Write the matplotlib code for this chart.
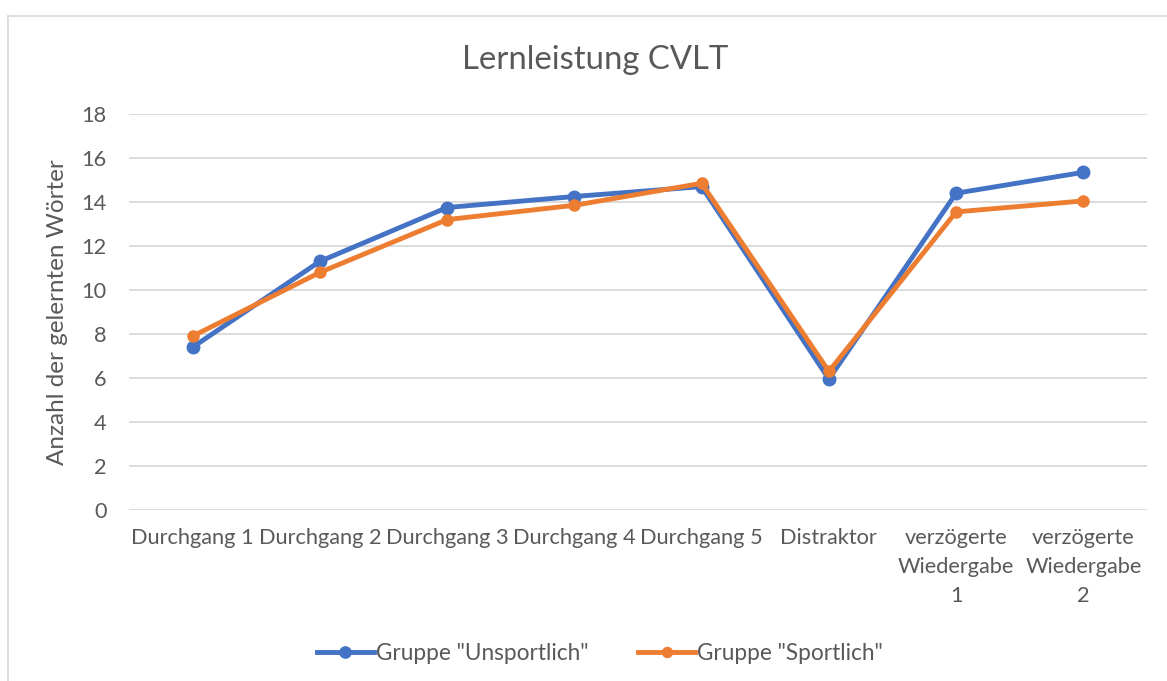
import matplotlib
matplotlib.use("Agg")
import matplotlib.pyplot as plt
from matplotlib.lines import Line2D

categories = ["Durchgang 1", "Durchgang 2", "Durchgang 3", "Durchgang 4", "Durchgang 5",
              "Distraktor", "verzögerte\nWiedergabe\n1", "verzögerte\nWiedergabe\n2"]
unsportlich = [7.4, 11.3, 13.75, 14.25, 14.7, 5.95, 14.4, 15.35]
sportlich = [7.9, 10.8, 13.2, 13.85, 14.85, 6.3, 13.55, 14.05]
series_names = ['Gruppe "Unsportlich"', 'Gruppe "Sportlich"']
yticks = [0, 2, 4, 6, 8, 10, 12, 14, 16, 18]

plt.rcParams['font.family'] = ['Lato', 'DejaVu Sans']
TXT = '#595959'
BLUE = '#4472C4'
ORANGE = '#ED7D31'
GRID = '#D9D9D9'

W, H = 1167, 681
fig = plt.figure(figsize=(W / 100, H / 100), dpi=100)
fig.patch.set_facecolor('white')

# chart area border (top and left visible)
fig.add_artist(Line2D([8 / W, 1.0], [1 - 16 / H, 1 - 16 / H], color='#D9D9D9', lw=1.2))
fig.add_artist(Line2D([8 / W, 8 / W], [1 - 16 / H, 0], color='#D9D9D9', lw=1.2))

left, right = 129 / W, 1147 / W
bottom, top = 1 - 510 / H, 1 - 114 / H
ax = fig.add_axes([left, bottom, right - left, top - bottom])

x = list(range(len(categories)))
ax.plot(x, unsportlich, color=BLUE, lw=3.5, marker='o', ms=9, label=series_names[0], zorder=3,
        solid_joinstyle='round')
ax.plot(x, sportlich, color=ORANGE, lw=3.5, marker='o', ms=8, label=series_names[1], zorder=4,
        solid_joinstyle='round')

ax.set_xlim(-0.5, len(categories) - 0.5)
ax.set_ylim(0, 18)
ax.set_yticks(yticks)
ax.set_yticklabels([str(v) for v in yticks])
ax.set_xticks(x)
ax.set_xticklabels(categories, fontsize=15.7, color=TXT, linespacing=1.55, va='top')
ax.tick_params(axis='y', labelsize=15.7, labelcolor=TXT, length=0, pad=16)
ax.tick_params(axis='x', length=0, pad=13)
ax.grid(axis='y', color=GRID, lw=1.3)
ax.set_axisbelow(True)
for s in ax.spines.values():
    s.set_visible(False)

ax.set_ylabel("Anzahl der gelernten Wörter", fontsize=17.5, color=TXT, labelpad=10)
fig.text(595 / W, 1 - 60 / H, "Lernleistung CVLT", fontsize=23.7, color=TXT, ha='center', va='center')

leg = fig.legend(loc='center', bbox_to_anchor=(600 / W, 1 - 653 / H), ncol=2, frameon=False,
                 fontsize=16.3, handlelength=2.5, handletextpad=0.1, columnspacing=2.2, markerscale=0.9)
for t in leg.get_texts():
    t.set_color(TXT)

fig.savefig('out.png', dpi=100, facecolor='white')
